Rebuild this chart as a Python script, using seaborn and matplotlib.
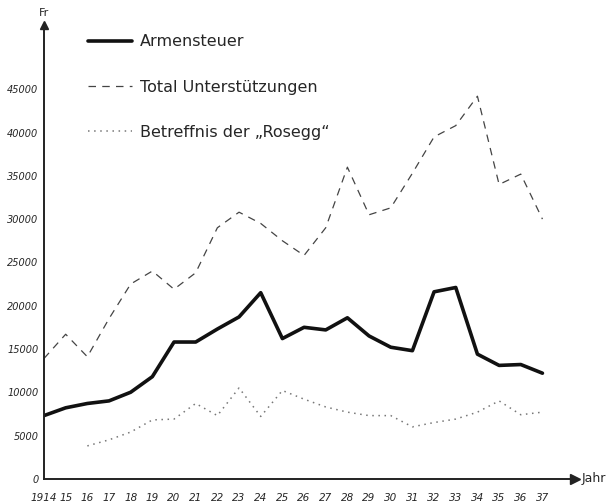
import pandas as pd
import matplotlib.pyplot as plt
import seaborn as sns

# Values (Fr per year)
years = list(range(1914, 1938))
armensteuer = [7300, 8200, 8700, 9000, 10000, 11800, 15800, 15800, 17300, 18700,
               21500, 16200, 17500, 17200, 18600, 16500, 15200, 14800, 21600, 22100,
               14400, 13100, 13200, 12200]
total = [13900, 16700, 14100, 18500, 22500, 24000, 21900, 23800, 29000, 30800,
         29500, 27500, 25800, 29000, 36000, 30500, 31300, 35300, 39500, 40800,
         44200, 34000, 35200, 30000]
rosegg_years = list(range(1916, 1938))
rosegg = [3800, 4500, 5400, 6800, 6900, 8700, 7300, 10500, 7200, 10200,
          9200, 8300, 7700, 7300, 7300, 6000, 6500, 6900, 7700, 9000, 7400, 7700]

y_ticks = [0, 5000, 10000, 15000, 20000, 25000, 30000, 35000, 40000, 45000]
x_labels = ["1914"] + [str(y)[2:] for y in years[1:]]

df = pd.DataFrame({"Jahr": years, "Armensteuer": armensteuer, "Total": total})
df_r = pd.DataFrame({"Jahr": rosegg_years, "Rosegg": rosegg})

sns.set_style("white")

fig = plt.figure(figsize=(6.11, 5.04), dpi=100)
ax = fig.add_axes([0.072, 0.05, 0.869, 0.90])

sns.lineplot(data=df, x="Jahr", y="Armensteuer", ax=ax, color="#111111",
             linewidth=2.6, label="Armensteuer")
sns.lineplot(data=df, x="Jahr", y="Total", ax=ax, color="#444444",
             linewidth=0.9, linestyle=(0, (6, 5)), label="Total Unterstützungen")
sns.lineplot(data=df_r, x="Jahr", y="Rosegg", ax=ax, color="#777777",
             linewidth=1.1, linestyle=(0, (1, 3)), label="Betreffnis der „Rosegg“")

ax.set_xlim(1914, 1938.5)
ax.set_ylim(0, 52400)

ax.set_xticks(years)
ax.set_xticklabels(x_labels, fontsize=7.5, fontstyle="italic")
ax.set_yticks(y_ticks)
ax.set_yticklabels([str(v) for v in y_ticks], fontsize=7, fontstyle="italic")
ax.tick_params(length=0, pad=4)
ax.tick_params(axis="x", pad=10)
ax.set_xlabel("")
ax.set_ylabel("")

sns.despine(ax=ax)
for s in ["left", "bottom"]:
    ax.spines[s].set_color("#222222")
    ax.spines[s].set_linewidth(1.4)

# axis arrows and titles
ax.plot([1], [0], marker=">", color="#222222", markersize=7,
        transform=ax.transAxes, clip_on=False)
ax.plot([0], [1], marker="^", color="#222222", markersize=6,
        transform=ax.transAxes, clip_on=False)
ax.text(1.012, 0, "Jahr", transform=ax.transAxes, fontsize=9,
        va="center", ha="left")
ax.text(0, 1.015, "Fr", transform=ax.transAxes, fontsize=8,
        va="bottom", ha="center")

leg = ax.legend(loc="upper left", bbox_to_anchor=(0.07, 0.994), frameon=False,
                borderaxespad=0, fontsize=11.5, handlelength=2.8,
                labelspacing=1.9, handletextpad=0.5)

plt.savefig("out.png", dpi=100)
